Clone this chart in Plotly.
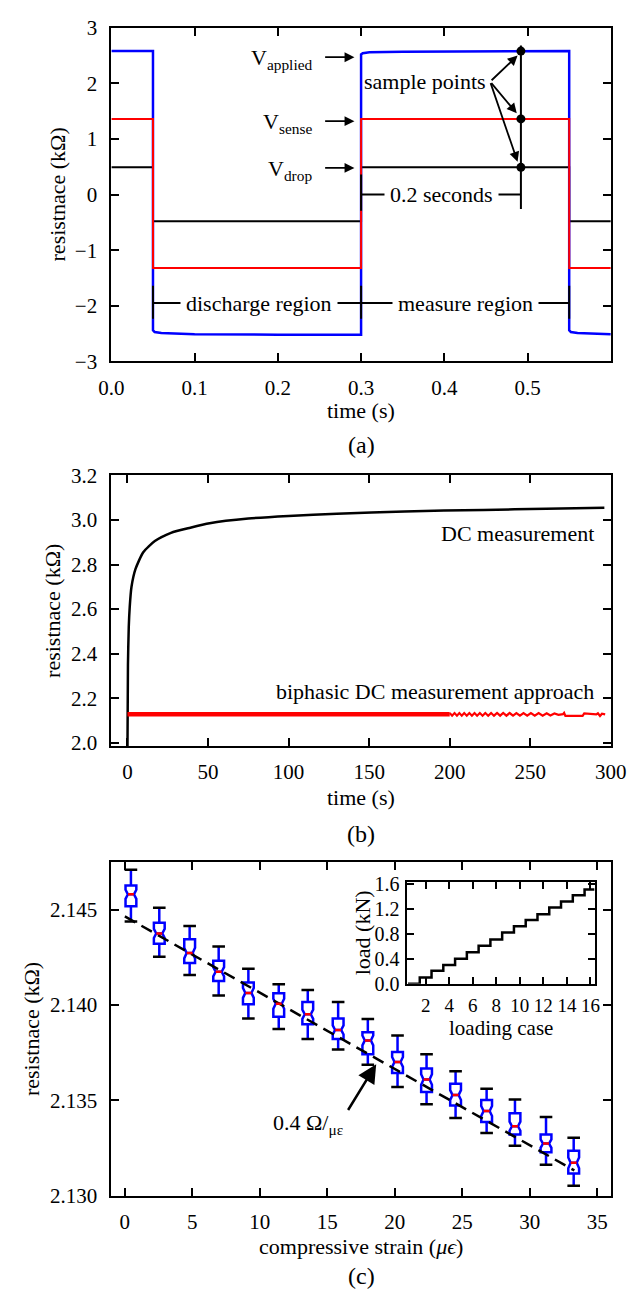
import plotly.graph_objects as go

FONT = "Liberation Serif"

# ---------------- (a) square-wave signals ----------------
t_a = [0.0, 0.05, 0.05, 0.3, 0.3, 0.55, 0.55, 0.6]
v_drop = [0.49, 0.49, -0.48, -0.48, 0.49, 0.49, -0.48, -0.48]
v_sense = [1.36, 1.36, -1.32, -1.32, 1.36, 1.36, -1.32, -1.32]
t_applied = [0.0, 0.05, 0.05, 0.052, 0.06, 0.1, 0.2, 0.3, 0.3, 0.302, 0.31, 0.35,
             0.55, 0.55, 0.552, 0.56, 0.6]
v_applied = [2.58, 2.58, -2.44, -2.47, -2.49, -2.51, -2.52, -2.52, 2.52, 2.54, 2.56, 2.57,
             2.58, -2.44, -2.47, -2.49, -2.51]
sample_t = 0.492
sample_vals = [2.58, 1.36, 0.49]
a_xticks = [0.0, 0.1, 0.2, 0.3, 0.4, 0.5]
a_yticks = [-3, -2, -1, 0, 1, 2, 3]

# ---------------- (b) long-term measurement ----------------
t_dc = [0, 0.3, 0.8, 1.4, 2.5, 5, 9.8, 17, 27, 39, 51, 75, 100, 130, 172, 221, 260, 296]
r_dc = [1.98, 2.35, 2.52, 2.61, 2.70, 2.78, 2.855, 2.905, 2.942, 2.965, 2.985, 3.006,
        3.018, 3.028, 3.038, 3.045, 3.050, 3.055]
t_bi_dense = [0, 200]
r_bi_dense = [2.128, 2.128]
t_bi = [200, 201.5, 203, 204.5, 206, 207.5, 209, 210.6, 212.2, 213.8, 215.4, 217, 218.7, 220.4,
        222.1, 223.9, 225.7, 227.5, 229.4, 231.3, 233.2, 235.2, 237.2, 239.3, 241.4, 243.6,
        245.8, 248.1, 250.4, 252.8, 255.2, 257.7, 260.2,
        262.5, 265, 267.5, 270.3, 271.0, 271.8, 282.5, 283.5, 288, 291, 292, 293.3, 294.5, 296.5]
r_bi = [2.134, 2.122, 2.134, 2.122, 2.134, 2.122, 2.134, 2.122, 2.134, 2.122, 2.134, 2.122,
        2.134, 2.122, 2.134, 2.122, 2.134, 2.122, 2.134, 2.122, 2.134, 2.122, 2.134, 2.122,
        2.134, 2.122, 2.134, 2.122, 2.134, 2.122, 2.134, 2.122, 2.133,
        2.123, 2.132, 2.126, 2.129, 2.135, 2.121, 2.121, 2.132, 2.130, 2.128, 2.133, 2.121, 2.131, 2.128]
b_xticks = [0, 50, 100, 150, 200, 250, 300]
b_yticks = [2.0, 2.2, 2.4, 2.6, 2.8, 3.0, 3.2]

# ---------------- (c) strain response ----------------
strain = [0.45, 2.55, 4.8, 6.95, 9.15, 11.4, 13.55, 15.8, 18.0, 20.2, 22.35, 24.5, 26.8, 28.9, 31.2, 33.25]
r_median = [2.14581, 2.14376, 2.14273, 2.14175, 2.14064, 2.14007, 2.13952, 2.13870,
            2.13815, 2.13702, 2.13610, 2.13528, 2.13445, 2.13365, 2.13274, 2.13173]
r_q3 = [2.14627, 2.14432, 2.14345, 2.14233, 2.14119, 2.14062, 2.14016, 2.13930,
        2.13858, 2.13754, 2.13668, 2.13587, 2.13502, 2.13433, 2.13322, 2.13236]
r_q1 = [2.14518, 2.14322, 2.14221, 2.14127, 2.14004, 2.13939, 2.13900, 2.13822,
        2.13742, 2.13644, 2.13545, 2.13473, 2.13387, 2.13322, 2.13228, 2.13117]
r_upper = [2.14710, 2.14511, 2.14415, 2.14307, 2.14191, 2.14110, 2.14079, 2.14016,
           2.13927, 2.13841, 2.13742, 2.13653, 2.13562, 2.13505, 2.13413, 2.13305]
r_lower = [2.14439, 2.14254, 2.14158, 2.14050, 2.13930, 2.13875, 2.13822, 2.13767,
           2.13687, 2.13570, 2.13480, 2.13408, 2.13330, 2.13262, 2.13163, 2.13053]
r_notch = [0.00024, 0.00024, 0.00028, 0.00024, 0.00026, 0.00026, 0.00024, 0.00024,
           0.00026, 0.00026, 0.00028, 0.00026, 0.00026, 0.00024, 0.00022, 0.00028]
fit_x = [0.0, 33.3]
fit_y = [2.14465, 2.13133]
c_xticks = [0, 5, 10, 15, 20, 25, 30, 35]
c_yticks = [2.130, 2.135, 2.140, 2.145]

# inset: load per loading case
loading_case = list(range(1, 17))
load_kn = [0.0, 0.10, 0.21, 0.30, 0.40, 0.505, 0.61, 0.71, 0.82, 0.92, 1.02, 1.115,
           1.22, 1.32, 1.42, 1.51]
inset_xticks = [2, 4, 6, 8, 10, 12, 14, 16]
inset_yticks = [0.0, 0.4, 0.8, 1.2, 1.6]

W, H = 644, 1305
def px_x(p): return p / W
def px_y(p): return 1 - p / H

XDOM = [px_x(103), px_x(626)]

fig = go.Figure()

# (a)
fig.add_trace(go.Scatter(x=t_a, y=v_drop, mode="lines", line=dict(color="black", width=2),
                         xaxis="x", yaxis="y"))
fig.add_trace(go.Scatter(x=t_applied, y=v_applied, mode="lines", line=dict(color="blue", width=2.5),
                         xaxis="x", yaxis="y"))
fig.add_trace(go.Scatter(x=t_a, y=v_sense, mode="lines", line=dict(color="red", width=2),
                         xaxis="x", yaxis="y"))
fig.add_trace(go.Scatter(x=[sample_t] * len(sample_vals), y=sample_vals, mode="markers",
                         marker=dict(color="black", size=9), xaxis="x", yaxis="y"))

# (b)
fig.add_trace(go.Scatter(x=t_dc, y=r_dc, mode="lines",
                         line=dict(color="black", width=2.5, shape="spline", smoothing=0.6),
                         xaxis="x2", yaxis="y2"))
fig.add_trace(go.Scatter(x=t_bi_dense, y=r_bi_dense, mode="lines", line=dict(color="red", width=4.5),
                         xaxis="x2", yaxis="y2"))
fig.add_trace(go.Scatter(x=t_bi, y=r_bi, mode="lines", line=dict(color="red", width=2.2),
                         xaxis="x2", yaxis="y2"))

# (c)
fig.add_trace(go.Scatter(x=fit_x, y=fit_y, mode="lines",
                         line=dict(color="black", width=2.5, dash="12px,7px"),
                         xaxis="x3", yaxis="y3"))
fig.add_trace(go.Box(x=strain, q1=r_q1, median=r_median, q3=r_q3, lowerfence=r_lower,
                     upperfence=r_upper, notched=True, notchspan=r_notch, notchwidth=0.22,
                     width=0.8, whiskerwidth=0, orientation="v", boxpoints=False,
                     line=dict(color="blue", width=2.5), fillcolor="rgba(0,0,0,0)",
                     xaxis="x3", yaxis="y3"))
med_x, med_y = [], []
for s, m in zip(strain, r_median):
    med_x += [s - 0.22, s + 0.22, None]
    med_y += [m, m, None]
fig.add_trace(go.Scatter(x=med_x, y=med_y, mode="lines", line=dict(color="red", width=2.5),
                         xaxis="x3", yaxis="y3"))
fig.add_trace(go.Scatter(x=strain + strain, y=r_upper + r_lower, mode="markers",
                         marker=dict(symbol="line-ew", size=9, line=dict(color="black", width=2.5)),
                         xaxis="x3", yaxis="y3"))

# inset
step_x = [c - 0.5 for c in loading_case] + [loading_case[-1] + 0.35]
step_y = load_kn + [load_kn[-1]]
fig.add_trace(go.Scatter(x=step_x, y=step_y, mode="lines",
                         line=dict(color="black", width=2.5, shape="hv"),
                         xaxis="x4", yaxis="y4"))


def axis(**kw):
    base = dict(showline=True, linecolor="black", linewidth=2, mirror="ticks", ticks="inside",
                ticklen=8, tickwidth=1.5, tickcolor="black", showgrid=False, zeroline=False,
                tickfont=dict(family=FONT, size=21, color="black"))
    base.update(kw)
    return base

fig.update_layout(
    width=W, height=H, margin=dict(l=0, r=0, t=0, b=0, pad=0), showlegend=False,
    paper_bgcolor="white", plot_bgcolor="white",
    font=dict(family=FONT, size=22, color="black"),
    xaxis=axis(domain=XDOM, anchor="y", range=[0, 0.6], tickvals=a_xticks, tickformat=".1f",
               ticklabelstandoff=6),
    yaxis=axis(domain=[px_y(356), px_y(16)], anchor="x", range=[-3, 3], tickvals=a_yticks,
               ticklabelstandoff=8),
    xaxis2=axis(domain=XDOM, anchor="y2", range=[-10, 300], tickvals=b_xticks, ticklabelstandoff=6),
    yaxis2=axis(domain=[px_y(748), px_y(472)], anchor="x2", range=[1.985, 3.2], tickvals=b_yticks,
                tickformat=".1f", ticklabelstandoff=8),
    xaxis3=axis(domain=XDOM, anchor="y3", range=[-1, 36], tickvals=c_xticks, ticklabelstandoff=6),
    yaxis3=axis(domain=[px_y(1206), px_y(866)], anchor="x3", range=[2.130, 2.1475], tickvals=c_yticks,
                tickformat=".3f", ticklabelstandoff=8),
    xaxis4=axis(domain=[px_x(413), px_x(609)], anchor="y4", range=[0.45, 16.35], tickvals=inset_xticks,
                tickangle=0, tickfont=dict(family=FONT, size=19, color="black"),
                ticklabelstandoff=3, ticklen=7),
    yaxis4=axis(domain=[px_y(990), px_y(886)], anchor="x4", range=[0, 1.635], tickvals=inset_yticks,
                tickformat=".1f", tickfont=dict(family=FONT, size=20, color="black"),
                ticklabelstandoff=2, ticklen=7),
)

# ---- shapes (annotation lines in panel a)
ln = dict(color="black", width=2)
shapes = [
    dict(type="line", xref="x", yref="y", x0=sample_t, x1=sample_t, y0=2.68, y1=-0.26, line=ln, layer="above"),
    dict(type="line", xref="x", yref="y", x0=0.3, x1=sample_t, y0=0, y1=0, line=ln, layer="above"),
    dict(type="line", xref="x", yref="y", x0=0.3, x1=0.3, y0=-0.29, y1=0.36, line=ln, layer="above"),
    dict(type="line", xref="x", yref="y", x0=0.05, x1=0.55, y0=-1.95, y1=-1.95, line=ln, layer="above"),
]
for xb in [0.05, 0.3, 0.55]:
    shapes.append(dict(type="line", xref="x", yref="y", x0=xb, x1=xb, y0=-1.64, y1=-2.23,
                       line=ln, layer="above"))
fig.update_layout(shapes=shapes)

ann = []
def text(x, y, s, xref="paper", yref="paper", size=22, angle=0, xanchor="center", yanchor="middle", **kw):
    d = dict(x=x, y=y, xref=xref, yref=yref, text=s, showarrow=False, textangle=angle,
             xanchor=xanchor, yanchor=yanchor, font=dict(family=FONT, size=size, color="black"))
    d.update(kw)
    ann.append(d)

def arrow(x, y, ax, ay, xref, yref, width=1.8, size=1.1, head=2):
    ann.append(dict(x=x, y=y, ax=ax, ay=ay, xref=xref, yref=yref, axref=xref, ayref=yref,
                    text="", showarrow=True, arrowhead=head, arrowsize=size, arrowwidth=width,
                    arrowcolor="black", standoff=0))

# axis titles and panel labels
xc = (103 + 626) / 2 / W
text(px_x(47), px_y(186), "resistnace (kΩ)", angle=-90)
text(xc, px_y(406), "time (s)")
text(xc, px_y(441), "(a)", size=24)
text(px_x(42), px_y(610), "resistnace (kΩ)", angle=-90)
text(xc, px_y(800), "time (s)")
text(xc, px_y(837), "(b)", size=24)
text(px_x(20), px_y(1036), "resistnace (kΩ)", angle=-90)
text(xc, px_y(1258), "compressive strain (<i>μϵ</i>)")
text(xc, px_y(1288), "(c)", size=24)
text(px_x(366), px_y(938), "load (kN)", angle=-90)
text(px_x(511), px_y(1035), "loading case", size=21)

# panel (a) labels
for lab, yv in [("V<sub>applied</sub>", 2.47), ("V<sub>sense</sub>", 1.32), ("V<sub>drop</sub>", 0.48)]:
    text(0.244, yv - 0.04, lab, xref="x", yref="y", xanchor="right")
    arrow(0.292, yv, 0.255, yv, "x", "y")
text(0.452, 2.03, "sample points", xref="x", yref="y", xanchor="right")
for hx, hy in [(0.488, 2.50), (0.487, 1.46), (0.488, 0.59)]:
    arrow(hx, hy, 0.455, 2.03, "x", "y")
text(0.396, 0, "0.2 seconds", xref="x", yref="y", bgcolor="white", borderpad=5)
text(0.177, -1.95, "discharge region", xref="x", yref="y", bgcolor="white", borderpad=5)
text(0.425, -1.95, "measure region", xref="x", yref="y", bgcolor="white", borderpad=5)

# panel (b) labels
text(290.5, 2.94, "DC measurement", xref="x2", yref="y2", xanchor="right")
text(290.5, 2.23, "biphasic DC measurement approach", xref="x2", yref="y2", xanchor="right")

# panel (c) labels
arrow(18.62, 2.1369, 16.47, 2.13442, "x3", "y3", width=2.5, size=1.5)
text(13.6, 2.13375, "0.4 Ω/<sub>με</sub>", xref="x3", yref="y3")

fig.update_layout(annotations=ann)
fig.write_html("out.html", config={"displayModeBar": False},
               post_script="document.body.style.margin='0';")
